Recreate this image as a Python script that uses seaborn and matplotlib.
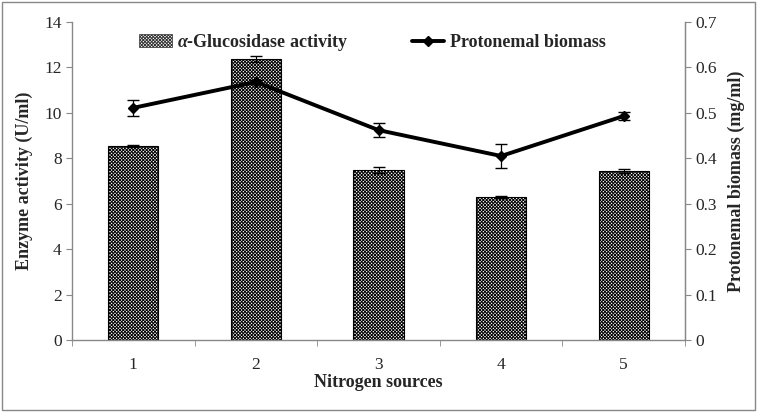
import matplotlib
matplotlib.use("Agg")
import matplotlib.pyplot as plt
from matplotlib.lines import Line2D
import seaborn as sns
import pandas as pd
import numpy as np

categories = ["1", "2", "3", "4", "5"]
enzyme = [8.55, 12.38, 7.49, 6.30, 7.44]
enzyme_err = [0.05, 0.12, 0.12, 0.05, 0.08]
biomass = [0.511, 0.568, 0.462, 0.405, 0.493]
biomass_err = [0.018, 0.005, 0.015, 0.026, 0.008]

sns.set_style("white")
plt.rcParams['font.family'] = ['Liberation Serif', 'DejaVu Serif']
plt.rcParams['hatch.linewidth'] = 0.7
plt.rcParams['hatch.color'] = '#333333'
plt.rcParams['mathtext.fontset'] = 'custom'
plt.rcParams['mathtext.it'] = 'Liberation Serif:italic:bold'

df = pd.DataFrame({"Nitrogen sources": categories, "Enzyme": enzyme})

fig = plt.figure(figsize=(7.57, 4.12), dpi=100)
ax = fig.add_axes([72/757, 1-340/412, (685-72)/757, (340-22)/412])
fig.patches.append(plt.Rectangle((0.003, 0.004), 0.994, 0.992, transform=fig.transFigure,
                                 fill=False, edgecolor='#888888', lw=1))

sns.barplot(data=df, x="Nitrogen sources", y="Enzyme", ax=ax, width=0.41,
            color='white', edgecolor='black', linewidth=0.8, hatch='xxxxxxxxxx')
x = np.arange(len(categories))
ax.errorbar(x, enzyme, yerr=enzyme_err, fmt='none', ecolor='black', elinewidth=0.8, capsize=4)
ax.set_xlim(-0.5, 4.5)
ax.set_ylim(0, 14)
ax.set_yticks(np.arange(0, 15, 2))
ax.set_xticks(np.arange(-0.5, 5, 1), minor=True)
ax.tick_params(axis='x', which='major', length=0, labelsize=12.5, pad=12)
ax.tick_params(axis='x', which='minor', length=4, color='#888888', direction='out', bottom=True)
ax.tick_params(axis='y', length=4, color='#888888', direction='out', left=True, labelsize=12.5)
ax.set_xlabel("Nitrogen sources", fontsize=13, fontweight='bold', labelpad=1)
ax.set_ylabel("Enzyme activity (U/ml)", fontsize=13, fontweight='bold', labelpad=8)
ax.spines['top'].set_visible(False)
for s in ['left', 'bottom', 'right']:
    ax.spines[s].set_color('#888888')
    ax.spines[s].set_linewidth(1)

ax2 = ax.twinx()
ax2.errorbar(x, biomass, yerr=biomass_err, color='black', lw=2.8, marker='D', markersize=5,
             ecolor='black', elinewidth=0.9, capsize=4)
ax2.set_ylim(0, 0.7)
ax2.set_yticks(np.arange(0, 0.71, 0.1))
ax2.set_yticklabels(["0", "0.1", "0.2", "0.3", "0.4", "0.5", "0.6", "0.7"])
ax2.tick_params(axis='y', length=4, color='#888888', direction='out', right=True, labelsize=12.5)
ax2.set_ylabel("Protonemal biomass (mg/ml)", fontsize=13, fontweight='bold', labelpad=8)
ax2.spines['top'].set_visible(False)
ax2.spines['right'].set_color('#888888')
ax2.spines['left'].set_visible(False)
ax2.spines['bottom'].set_visible(False)
ax2.grid(False)

bar_handle = plt.Rectangle((0, 0), 1, 1, facecolor='white', edgecolor='#333333',
                           hatch='xxxxxxxxxx', lw=0.5)
line_handle = Line2D([], [], color='black', lw=2.8, marker='D', markersize=5)
ax.legend([bar_handle, line_handle], [r"$\alpha$-Glucosidase activity", "Protonemal biomass"],
          loc='upper center', bbox_to_anchor=(0.49, 1.02), ncol=2,
          frameon=False, prop={'weight': 'bold', 'size': 13}, handlelength=1.8,
          handletextpad=0.3, columnspacing=3.5)
fig.savefig("out.png", dpi=100)
